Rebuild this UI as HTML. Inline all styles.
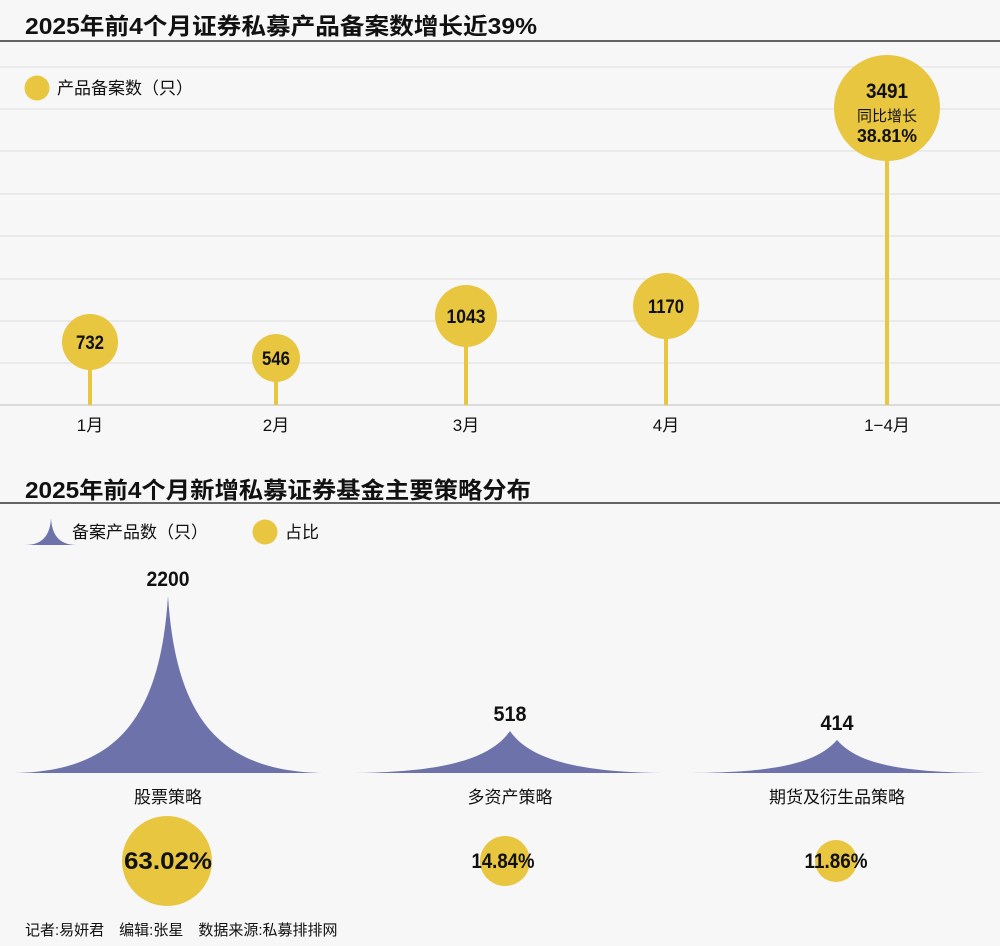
<!DOCTYPE html>
<html><head><meta charset="utf-8"><style>
body{margin:0;background:#f7f7f7;}
svg{display:block}
text{font-family:"Liberation Sans","Noto Sans CJK SC",sans-serif;fill:#111}
.n{font-weight:bold}
</style></head><body>
<svg width="1000" height="946" viewBox="0 0 1000 946" xmlns="http://www.w3.org/2000/svg">
<rect width="1000" height="946" fill="#f7f7f7"/>
<text x="25" y="34" font-size="23" font-weight="bold" textLength="512" lengthAdjust="spacingAndGlyphs">2025年前4个月证券私募产品备案数增长近39%</text>
<line x1="0" y1="41" x2="1000" y2="41" stroke="#333" stroke-width="1.5"/>
<g stroke="#e2e2e2" stroke-width="1.2">
<line x1="0" y1="67" x2="1000" y2="67"/><line x1="0" y1="109" x2="1000" y2="109"/>
<line x1="0" y1="151" x2="1000" y2="151"/><line x1="0" y1="194" x2="1000" y2="194"/>
<line x1="0" y1="236" x2="1000" y2="236"/><line x1="0" y1="279" x2="1000" y2="279"/>
<line x1="0" y1="321" x2="1000" y2="321"/><line x1="0" y1="363" x2="1000" y2="363"/>
</g>
<line x1="0" y1="405" x2="1000" y2="405" stroke="#d0d0d0" stroke-width="1.5"/>
<circle cx="37" cy="88" r="12.5" fill="#e8c640"/>
<text x="57" y="94" font-size="17">产品备案数（只）</text>
<g stroke="#e8c640" stroke-width="4">
<line x1="90" y1="342" x2="90" y2="405"/><line x1="276" y1="358" x2="276" y2="405"/>
<line x1="466" y1="316" x2="466" y2="405"/><line x1="666" y1="306" x2="666" y2="405"/>
<line x1="887" y1="108" x2="887" y2="405"/>
</g>
<g fill="#e8c640">
<circle cx="90" cy="342" r="28"/><circle cx="276" cy="358" r="24"/>
<circle cx="466" cy="316" r="31"/><circle cx="666" cy="306" r="33"/>
<circle cx="887" cy="108" r="53"/>
</g>
<g font-size="19" text-anchor="middle">
<text class="n" x="90" y="349" textLength="28" lengthAdjust="spacingAndGlyphs">732</text>
<text class="n" x="276" y="365" textLength="28" lengthAdjust="spacingAndGlyphs">546</text>
<text class="n" x="466" y="323" textLength="39" lengthAdjust="spacingAndGlyphs">1043</text>
<text class="n" x="666" y="313" textLength="36" lengthAdjust="spacingAndGlyphs">1170</text>
<text class="n" x="887" y="98" font-size="21" textLength="42" lengthAdjust="spacingAndGlyphs">3491</text>
</g>
<text x="887" y="121" font-size="15" text-anchor="middle">同比增长</text>
<text class="n" x="887" y="142" font-size="18" text-anchor="middle" textLength="60" lengthAdjust="spacingAndGlyphs">38.81%</text>
<g font-size="17" text-anchor="middle">
<text x="90" y="431">1月</text><text x="276" y="431">2月</text><text x="466" y="431">3月</text>
<text x="666" y="431">4月</text><text x="887" y="431">1−4月</text>
</g>
<text x="25" y="498" font-size="23" font-weight="bold" textLength="506" lengthAdjust="spacingAndGlyphs">2025年前4个月新增私募证券基金主要策略分布</text>
<line x1="0" y1="503" x2="1000" y2="503" stroke="#333" stroke-width="1.5"/>
<path d="M25,545 C40,545 50,538 51,518 C52,538 62,545 77,545 Z" fill="#6e72aa"/>
<text x="72" y="538" font-size="17">备案产品数（只）</text>
<circle cx="265" cy="532" r="12.5" fill="#e8c640"/>
<text x="285" y="538" font-size="17">占比</text>
<g fill="#6e72aa">
<path d="M10,773 C115,773 160,720 168,596 C176,720 221,773 328,773 Z"/>
<path d="M345,773 C440,773 490,760 510,731 C530,760 580,773 672,773 Z"/>
<path d="M680,773 C770,773 815,765 837,740 C859,765 904,773 995,773 Z"/>
</g>
<g text-anchor="middle" font-size="21">
<text class="n" x="168" y="586" textLength="43" lengthAdjust="spacingAndGlyphs">2200</text>
<text class="n" x="510" y="721" textLength="33" lengthAdjust="spacingAndGlyphs">518</text>
<text class="n" x="837" y="730" textLength="33" lengthAdjust="spacingAndGlyphs">414</text>
</g>
<g text-anchor="middle" font-size="17">
<text x="168" y="803">股票策略</text>
<text x="510" y="803">多资产策略</text>
<text x="837" y="803">期货及衍生品策略</text>
</g>
<circle cx="167" cy="861" r="45" fill="#e8c640"/>
<circle cx="505" cy="861" r="25" fill="#e8c640"/>
<circle cx="836" cy="861" r="21" fill="#e8c640"/>
<g text-anchor="middle">
<text class="n" x="168" y="869" font-size="24" textLength="88" lengthAdjust="spacingAndGlyphs">63.02%</text>
<text class="n" x="503" y="868" font-size="21" textLength="63" lengthAdjust="spacingAndGlyphs">14.84%</text>
<text class="n" x="836" y="868" font-size="21" textLength="63" lengthAdjust="spacingAndGlyphs">11.86%</text>
</g>
<text x="25" y="935" font-size="15" fill="#333">记者:易妍君　编辑:张星　数据来源:私募排排网</text>
</svg>
</body></html>
